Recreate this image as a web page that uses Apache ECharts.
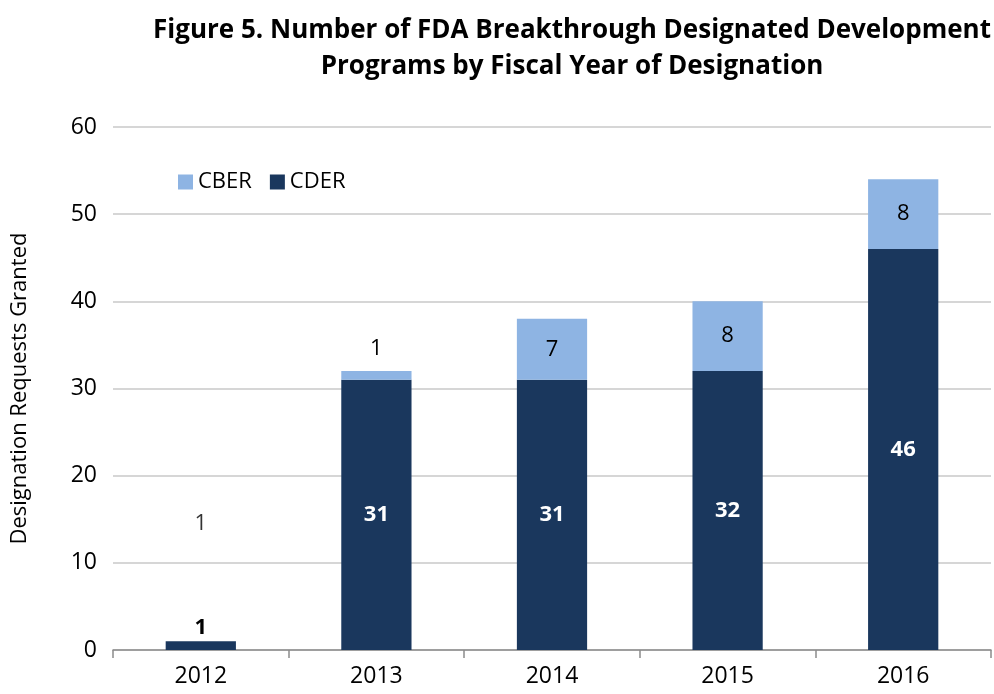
<!DOCTYPE html>
<html>
<head>
<meta charset="utf-8">
<script src="https://cdn.jsdelivr.net/npm/echarts@6/dist/echarts.min.js"></script>
<style>
  html, body { margin: 0; padding: 0; background: #fff; }
  #main { width: 994px; height: 694px; }
</style>
</head>
<body>
<div id="main"></div>
<script>
const years = ['2012', '2013', '2014', '2015', '2016'];
const cderValues = [1, 31, 31, 32, 46];
const cberValues = [0, 1, 7, 8, 8];
// stray "1" annotation floating over 2012 in the original figure
const noteYear = ['2012'];
const noteValue = [14.5];
const noteText = ['1'];

const FONT = '"Open Sans", "Noto Sans", sans-serif';
const chart = echarts.init(document.getElementById('main'));

const cderData = cderValues.map((v, i) => ({
  value: v,
  label: i === 0
    ? { show: true, position: 'top', color: '#000', fontWeight: 'bold', distance: 3 }
    : { show: true, position: 'inside', color: '#fff', fontWeight: 'bold' }
}));
const cberData = cberValues.map((v, i) => ({
  value: v,
  label: v === 0 ? { show: false }
    : v < 3 ? { show: true, position: 'top', distance: 11 }
    : { show: true, position: 'inside' }
}));

chart.setOption({
  animation: false,
  textStyle: { fontFamily: FONT },
  title: {
    text: 'Figure 5. Number of FDA Breakthrough Designated Development\nPrograms by Fiscal Year of Designation',
    left: 567,
    top: 8,
    textAlign: 'center',
    textStyle: { fontFamily: FONT, fontSize: 26, fontWeight: 'bold', color: '#000', lineHeight: 36 }
  },
  legend: {
    left: 173,
    top: 166,
    itemWidth: 15,
    itemHeight: 15,
    itemGap: 18,
    icon: 'rect',
    data: ['CBER', 'CDER'],
    textStyle: { fontFamily: FONT, fontSize: 22, color: '#000' }
  },
  grid: { left: 113, right: 3, top: 127, bottom: 44, containLabel: false },
  xAxis: {
    type: 'category',
    data: years,
    axisLine: { lineStyle: { color: '#8c8c8c', width: 1.5 } },
    axisTick: { show: true, length: 8, inside: false, lineStyle: { color: '#8c8c8c', width: 1.5 } },
    axisLabel: { fontSize: 23, color: '#000', margin: 15, fontFamily: FONT }
  },
  yAxis: {
    type: 'value',
    min: 0,
    max: 60,
    interval: 10,
    name: 'Designation Requests Granted',
    nameLocation: 'middle',
    nameGap: 82,
    nameTextStyle: { fontSize: 22, color: '#000', fontFamily: FONT },
    axisLine: { show: false },
    axisTick: { show: false },
    axisLabel: { fontSize: 23, color: '#000', margin: 16, fontFamily: FONT },
    splitLine: { lineStyle: { color: '#c8c8c8', width: 1.5 } }
  },
  series: [
    {
      name: 'CDER',
      type: 'bar',
      stack: 'total',
      barWidth: '40%',
      itemStyle: { color: '#1a375d' },
      label: { fontSize: 22, fontFamily: FONT },
      data: cderData
    },
    {
      name: 'CBER',
      type: 'bar',
      stack: 'total',
      barWidth: '40%',
      itemStyle: { color: '#8eb4e3' },
      label: { fontSize: 22, color: '#000', fontFamily: FONT },
      data: cberData
    },
    {
      name: 'note',
      type: 'scatter',
      symbolSize: 0,
      silent: true,
      label: {
        show: true,
        position: 'inside',
        fontSize: 22,
        color: '#000',
        fontFamily: FONT,
        formatter: (p) => noteText[p.dataIndex]
      },
      data: noteYear.map((y, i) => [y, noteValue[i]])
    }
  ]
});
</script>
</body>
</html>
